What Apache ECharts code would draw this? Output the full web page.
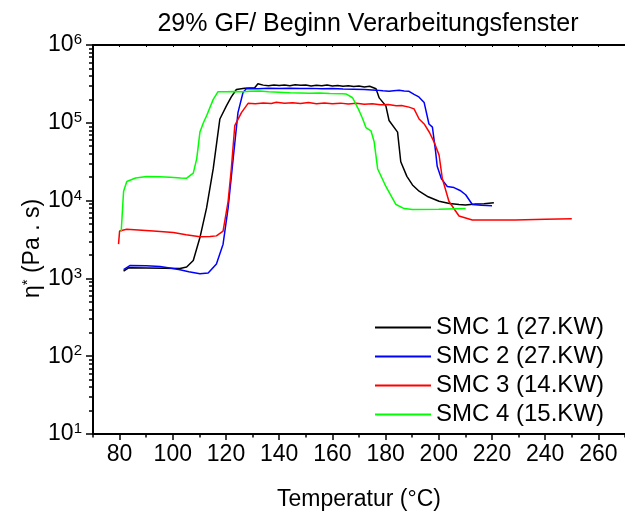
<!DOCTYPE html>
<html>
<head>
<meta charset="utf-8">
<script src="https://cdn.jsdelivr.net/npm/echarts@6/dist/echarts.min.js"></script>
<style>
html,body{margin:0;padding:0;background:#fff;}
#main{width:625px;height:516px;}
</style>
</head>
<body>
<div id="main"></div>
<script>
// ---- data ----
var titleText = '29% GF/ Beginn Verarbeitungsfenster';
var xName = 'Temperatur (°C)';
var seriesNames = ['SMC 1 (27.KW)', 'SMC 2 (27.KW)', 'SMC 3 (14.KW)', 'SMC 4 (15.KW)'];
var seriesColors = ['#000000', '#0000ff', '#ff0000', '#00ff00'];
var xTickLabels = [80, 100, 120, 140, 160, 180, 200, 220, 240, 260];
var xMinorTicks = [70, 90, 110, 130, 150, 170, 190, 210, 230, 250, 270];
var yMajorTicks = [10, 100, 1000, 10000, 100000, 1000000];

var smc1T = [81.5, 83.4, 90, 97, 102.7, 105.2, 107.7, 110.2, 112.7, 115.2, 117.7, 120.2, 122, 123.9, 127, 130.8, 132, 134, 136, 138, 140, 142, 144, 146, 148, 150, 152, 154, 156, 158, 160, 162, 164, 166, 168, 170, 172, 174, 176.4, 177.6, 180.1, 181.3, 184.5, 185.7, 188, 190.1, 192.6, 196, 200.1, 204, 207.6, 210, 213.8, 217, 220.7];
var smc1V = [1242, 1368, 1360, 1350, 1343, 1400, 1700, 3350, 8050, 25700, 112000, 166000, 215000, 268000, 278000, 283000, 317000, 305000, 300000, 306000, 302000, 307000, 300000, 309000, 303000, 306000, 298000, 304000, 300000, 307000, 298000, 301000, 295000, 299000, 292000, 297000, 289000, 295000, 274000, 209000, 165000, 107000, 76000, 31600, 20500, 15900, 13200, 11200, 9800, 9200, 8900, 8800, 9060, 9100, 9360];

var smc2T = [81.5, 84, 90, 95.2, 100, 102.7, 106, 110.2, 113.3, 116.4, 118.9, 120.8, 122.7, 124.5, 126.4, 127.7, 132, 136, 140, 144, 148, 152, 156, 160, 164, 168, 172, 176.4, 179, 181.3, 183, 185.1, 187, 188.8, 190.7, 192.5, 194.5, 196.3, 197.6, 198.8, 199.4, 201, 203.2, 205.7, 208, 210.1, 212.6, 216, 220];
var smc2V = [1300, 1466, 1450, 1420, 1340, 1290, 1220, 1150, 1170, 1535, 2750, 8060, 34700, 135000, 245000, 276000, 273000, 278000, 275000, 279000, 275000, 277000, 273000, 276000, 271000, 270000, 267000, 263000, 258000, 254000, 258000, 262000, 257000, 254000, 232000, 215000, 182000, 96500, 87900, 42700, 27600, 19000, 15200, 14700, 13500, 11900, 8900, 8700, 8600];

var smc3T = [79.6, 80, 82.7, 87, 92.7, 100.2, 105, 110.2, 114, 116.4, 118.9, 120.8, 122, 123.3, 125.8, 128.3, 131, 134, 137, 138.9, 142, 145, 148, 151, 154, 157, 160, 163, 166, 169, 172, 175, 178, 181, 184, 186, 188.8, 190.7, 192.6, 194.5, 196.5, 198.2, 200.1, 201.3, 203.8, 207.6, 212.6, 220, 228.8, 240, 250];
var smc3V = [2760, 4060, 4270, 4200, 4060, 3880, 3650, 3430, 3450, 3520, 4060, 9800, 25700, 91800, 135000, 178000, 176000, 180000, 177000, 184000, 178000, 181000, 177000, 182000, 176000, 180000, 176000, 179000, 174000, 178000, 173000, 176000, 171000, 172000, 166000, 167000, 159000, 151000, 112000, 96600, 75000, 56900, 38400, 19400, 9800, 6340, 5640, 5620, 5650, 5750, 5850];

var smc4T = [80.6, 80.9, 81.5, 82.7, 86, 90.2, 95, 99, 103, 105.2, 107.7, 109, 110.2, 111.5, 112.7, 115.2, 117, 120, 123, 126.4, 129, 132.7, 136, 140, 144, 148, 151.4, 155, 159, 163.9, 165.1, 167.6, 170.1, 171.4, 172.6, 174.5, 175.7, 177, 180.1, 183.9, 187, 190.1, 200, 210.1];
var smc4V = [3980, 6000, 13200, 17600, 19500, 20400, 20200, 19900, 19500, 19400, 22500, 34700, 76000, 100000, 123000, 200000, 251000, 250000, 253000, 251000, 255000, 256000, 250000, 247000, 244000, 242000, 240000, 241000, 238000, 236000, 235000, 210000, 142000, 112000, 87000, 79000, 57000, 25700, 15200, 8900, 7900, 7670, 7750, 7900];

var seriesT = [smc1T, smc2T, smc3T, smc4T];
var seriesV = [smc1V, smc2V, smc3V, smc4V];

function pairs(t, v) { return t.map(function (x, i) { return [x, v[i]]; }); }
var yMinorTicks = [];
for (var d = 10; d < 1000000; d *= 10) { for (var k = 2; k <= 9; k++) yMinorTicks.push(d * k); }

var FONT = 'Liberation Sans, Arial, sans-serif';
var chart = echarts.init(document.getElementById('main'), null, { renderer: 'canvas' });

var series = seriesNames.map(function (n, i) {
  return {
    name: n, type: 'line', xAxisIndex: 0, yAxisIndex: 0,
    data: pairs(seriesT[i], seriesV[i]),
    symbol: 'none', showSymbol: false,
    lineStyle: { color: seriesColors[i], width: 1.5 },
    itemStyle: { color: seriesColors[i] },
    animation: false
  };
});

var option = {
  animation: false,
  backgroundColor: '#ffffff',
  textStyle: { fontFamily: FONT, color: '#000' },
  title: {
    text: titleText, left: 363, top: 7, textAlign: 'center',
    textStyle: { fontFamily: FONT, fontSize: 25, fontWeight: 'normal', color: '#000' }
  },
  legend: {
    left: 369, top: 310, orient: 'vertical', itemWidth: 56, itemHeight: 10, itemGap: 4,
    data: seriesNames,
    textStyle: { fontFamily: FONT, fontSize: 24, color: '#000', lineHeight: 25 },
    itemStyle: { opacity: 0 }
  },
  grid: { left: 93, top: 45, width: 534, height: 394, containLabel: false },
  xAxis: [
    {
      type: 'value', min: 70, max: 270, position: 'bottom',
      name: xName, nameLocation: 'middle', nameGap: 54, nameMoveOverlap: false,
      nameTextStyle: { fontFamily: FONT, fontSize: 23, color: '#000' },
      axisLine: { show: true, onZero: false, lineStyle: { color: '#000', width: 2 } },
      axisTick: { show: true, customValues: xTickLabels, length: 6, lineStyle: { color: '#000', width: 1.5 } },
      axisLabel: { show: true, customValues: xTickLabels, margin: 9, fontFamily: FONT, fontSize: 23, color: '#000' },
      splitLine: { show: false }
    },
    {
      type: 'value', min: 70, max: 270, position: 'bottom', gridIndex: 0,
      axisLine: { show: false, onZero: false },
      axisTick: { show: true, customValues: xMinorTicks, length: 3.5, lineStyle: { color: '#000', width: 1.5 } },
      axisLabel: { show: false }, splitLine: { show: false }
    },
    {
      type: 'value', min: 70, max: 270, position: 'top', gridIndex: 0,
      axisLine: { show: true, onZero: false, lineStyle: { color: '#000', width: 2 } },
      axisTick: { show: true, inside: true, customValues: xMinorTicks.concat(xTickLabels), length: 2, lineStyle: { color: '#000', width: 1 } },
      axisLabel: { show: false }, splitLine: { show: false }
    }
  ],
  yAxis: [
    {
      type: 'log', logBase: 10, min: 10, max: 1000000, position: 'left',
      name: '{i|η}{sup|*}{i| (Pa . s)}', nameLocation: 'middle', nameGap: 48, nameRotate: 90, nameMoveOverlap: false,
      nameTextStyle: {
        fontFamily: FONT, fontSize: 23, color: '#000', padding: [0, 18, 0, 0],
        rich: {
          i: { fontFamily: FONT, fontSize: 23, color: '#000' },
          sup: { fontFamily: FONT, fontSize: 15, color: '#000', verticalAlign: 'top', padding: [0, 0, 10, 0] }
        }
      },
      axisLine: { show: true, onZero: false, lineStyle: { color: '#000', width: 2 } },
      axisTick: { show: true, customValues: yMajorTicks, length: 7, lineStyle: { color: '#000', width: 1.5 } },
      axisLabel: {
        show: true, customValues: yMajorTicks, margin: 11,
        formatter: function (v) { return '{b|10}{sup|' + Math.round(Math.log10(v)) + '}'; },
        rich: {
          b: { fontFamily: FONT, fontSize: 23, color: '#000' },
          sup: { fontFamily: FONT, fontSize: 15, color: '#000', verticalAlign: 'top', padding: [0, 0, 10, 0] }
        }
      },
      splitLine: { show: false }
    },
    {
      type: 'log', logBase: 10, min: 10, max: 1000000, position: 'left', gridIndex: 0,
      axisLine: { show: false, onZero: false },
      axisTick: { show: true, customValues: yMinorTicks, length: 4, lineStyle: { color: '#000', width: 1.5 } },
      axisLabel: { show: false }, splitLine: { show: false }
    }
  ],
  series: series
};
chart.setOption(option);
</script>
</body>
</html>
